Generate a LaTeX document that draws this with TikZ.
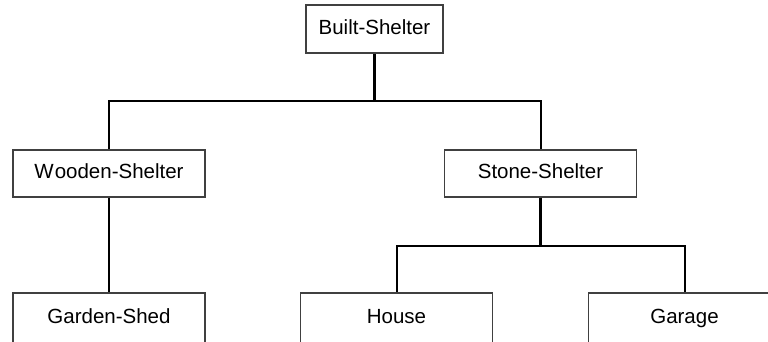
\documentclass[tikz,border=0pt]{standalone}
\usepackage{fontspec}
\setmainfont{Liberation Sans}
\begin{document}
\begin{tikzpicture}[x=1pt,y=-1pt,
  box/.style={draw=black!75,line width=1.3pt,fill=white,minimum height=48pt,
    inner sep=0pt,text height=14.5pt,text depth=4pt,
    font=\fontsize{20.5}{24}\selectfont},
  link/.style={draw=black,line width=2pt},
  stem/.style={draw=black,line width=2.6pt}]
  \useasboundingbox (0,0) rectangle (768,341);
  \fill[white] (0,0) rectangle (768,341);
  \clip (0,0) rectangle (768,341);

  % hierarchy boxes
  \node[box,minimum width=137pt] (bs) at (374.5,29) {Built-Shelter};
  \node[box,minimum width=192pt,minimum height=47pt] (ws) at (109,173.5) {W\kern1pt ooden-Shelter};
  \node[box,minimum width=192pt,minimum height=47pt] (ss) at (540.5,173.5) {Stone-Shelter};
  \node[box,minimum width=192pt,minimum height=50pt] (gs) at (109,318) {Garden-Shed};
  \node[box,minimum width=192pt,minimum height=50pt] (ho) at (396.5,318) {House};
  \node[box,minimum width=192pt,minimum height=50pt] (ga) at (684.5,318) {Garage};

  % connectors
  \draw[link] (bs.south) ++(0,47) -| (ws.north);
  \draw[link] (bs.south) ++(0,47) -| (ss.north);
  \draw[stem] (bs.south) -- ++(0,47);
  \draw[link] (ws.south) -- (gs.north);
  \draw[link] (ss.south) ++(0,48) -| (ho.north);
  \draw[link] (ss.south) ++(0,48) -| (ga.north);
  \draw[stem] (ss.south) -- ++(0,48);
\end{tikzpicture}
\end{document}
